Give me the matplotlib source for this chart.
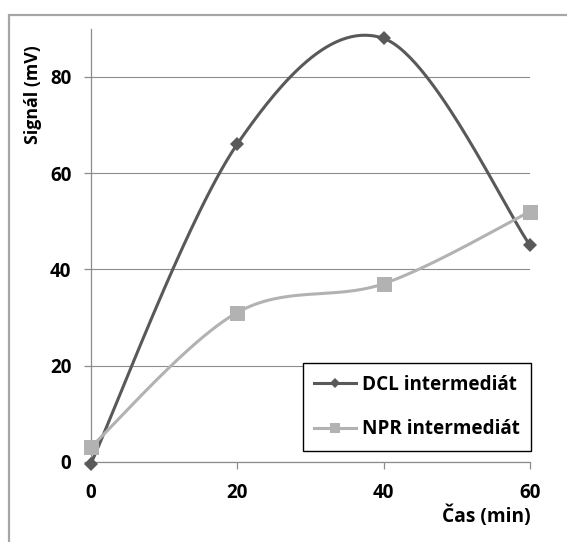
import numpy as np
import matplotlib
matplotlib.use('Agg')
import matplotlib.pyplot as plt
from matplotlib.patches import Rectangle
from matplotlib.lines import Line2D

plt.rcParams['font.family'] = ['Open Sans', 'DejaVu Sans']
plt.rcParams['font.weight'] = 'bold'

# measured signal over time
time_min = [0, 20, 40, 60]
dcl_signal = [-0.5, 66, 88, 45]
npr_signal = [3, 31, 37, 52]
series_labels = ['DCL intermediát', 'NPR intermediát']
y_ticks = [0, 20, 40, 60, 80]
x_ticks = [0, 20, 40, 60]

DARK = '#595959'
LIGHT = '#b2b2b2'
GRID = '#8c8c8c'


def smooth_curve(xs, ys, steps=60):
    """Catmull-Rom style bezier through the points (like a spreadsheet smoothed line)."""
    pts = np.column_stack([np.asarray(xs, float), np.asarray(ys, float)])
    n = len(pts)
    out = []
    for i in range(n - 1):
        p0 = pts[max(i - 1, 0)]
        p1 = pts[i]
        p2 = pts[i + 1]
        p3 = pts[min(i + 2, n - 1)]
        c1 = p1 + (p2 - p0) / 6.0
        c2 = p2 - (p3 - p1) / 6.0
        t = np.linspace(0, 1, steps)[:, None]
        seg = ((1 - t) ** 3) * p1 + 3 * ((1 - t) ** 2) * t * c1 \
            + 3 * (1 - t) * t ** 2 * c2 + t ** 3 * p2
        out.append(seg if i == 0 else seg[1:])
    curve = np.vstack(out)
    return curve[:, 0], curve[:, 1]


fig = plt.figure(figsize=(5.67, 5.42), dpi=100)
ax = fig.add_axes([90.7 / 567, 1 - 461.7 / 542, (530 - 90.7) / 567, (461.7 - 28.8) / 542])

# outer chart frame, only its top and left edges fall inside the image
top = 1 - 14.5 / 542
fig.patches.append(Rectangle((8.5 / 567, -0.2), 1.2, top + 0.2,
                             transform=fig.transFigure, fill=False,
                             edgecolor='#a6a6a6', linewidth=1.6, zorder=0))

for ys, color in [(dcl_signal, DARK), (npr_signal, LIGHT)]:
    cx, cy = smooth_curve(time_min, ys)
    ax.plot(cx, cy, '-', color=color, linewidth=2.2, zorder=3, clip_on=False)

ax.plot(time_min, dcl_signal, linestyle='none', marker='D', color=DARK, markersize=7.1,
        markeredgewidth=0, zorder=4, clip_on=False)
ax.plot(time_min, npr_signal, linestyle='none', marker='s', color=LIGHT, markersize=10.8,
        markeredgewidth=0, zorder=4, clip_on=False)

ax.set_xlim(0, 60)
ax.set_ylim(0, 90)
ax.set_xticks(x_ticks)
ax.set_yticks(y_ticks)
ax.set_xticklabels([str(v) for v in x_ticks], fontweight='bold')
ax.set_yticklabels([str(v) for v in y_ticks], fontweight='bold')

ax.yaxis.grid(True, color=GRID, linewidth=0.8)
ax.set_axisbelow(True)
for side in ['top', 'right']:
    ax.spines[side].set_visible(False)
for side in ['left', 'bottom']:
    ax.spines[side].set_color(GRID)
    ax.spines[side].set_linewidth(0.9)

ax.tick_params(axis='both', direction='out', length=5, width=0.9, color=GRID,
               labelsize=13.5, labelcolor='black')
ax.tick_params(axis='y', pad=9)
ax.tick_params(axis='x', pad=10.5)

ax.text(-0.131, 0.847, 'Signál (mV)', transform=ax.transAxes, rotation=90,
        ha='center', va='center', fontsize=12.8, fontweight='bold')
ax.text(1.002, -0.125, 'Čas (min)', transform=ax.transAxes,
        ha='right', va='center', fontsize=13.8, fontweight='bold')

leg_handles = [
    Line2D([], [], color=DARK, linewidth=2.2, marker='D', markersize=5, markeredgewidth=0),
    Line2D([], [], color=LIGHT, linewidth=2.2, marker='s', markersize=7.5, markeredgewidth=0),
]
leg = ax.legend(leg_handles, series_labels, loc='lower right',
                bbox_to_anchor=(1.002, 0.0255), fancybox=False, framealpha=1,
                edgecolor='black', prop={'size': 13.6, 'weight': 'bold'},
                handlelength=2.2, handletextpad=0.3, borderpad=0.6,
                labelspacing=1.3, borderaxespad=0)
leg.get_frame().set_linewidth(1.0)
leg.set_zorder(5)

fig.savefig('out.png', dpi=100, facecolor='white')
